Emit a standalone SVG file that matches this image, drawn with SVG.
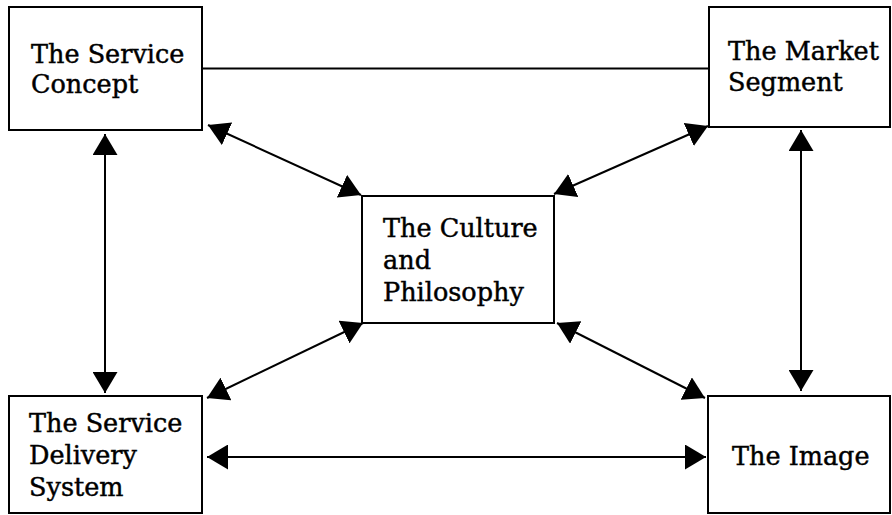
<svg xmlns="http://www.w3.org/2000/svg" width="892" height="515" viewBox="0 0 892 515">
<style>
.box{fill:#fff;stroke:#000;stroke-width:2}
.lbl{font-family:"DejaVu Serif","Liberation Serif",serif;font-size:25.5px;fill:#000;stroke:#000;stroke-width:0.45}
.con{stroke:#000;stroke-width:2;fill:none}
.arr{marker-start:url(#ah);marker-end:url(#ah)}
</style>
<defs>
<marker id="ah" markerUnits="userSpaceOnUse" markerWidth="21" markerHeight="25" refX="21" refY="12.5" orient="auto-start-reverse" viewBox="0 0 21 25">
<path d="M0,0 L21,12.5 L0,25 z" fill="#000"/>
</marker>
</defs>
<rect width="892" height="515" fill="#fff"/>
<g id="connectors">
<line class="con" x1="202" y1="68.5" x2="709" y2="68.5"/>
<line class="con arr" x1="105" y1="134" x2="105" y2="393"/>
<line class="con arr" x1="801" y1="130" x2="801" y2="391"/>
<line class="con arr" x1="207" y1="457" x2="706" y2="457"/>
<line class="con arr" x1="208" y1="125" x2="361" y2="195"/>
<line class="con arr" x1="708" y1="126" x2="554" y2="194"/>
<line class="con arr" x1="207" y1="398" x2="363" y2="323"/>
<line class="con arr" x1="557" y1="323" x2="705" y2="398"/>
</g>
<g id="service-concept">
<rect class="box" x="9" y="7" width="193" height="123"/>
<text class="lbl" x="31" y="63">The Service</text>
<text class="lbl" x="31" y="93">Concept</text>
</g>
<g id="market-segment">
<rect class="box" x="709" y="7" width="181" height="120"/>
<text class="lbl" x="728" y="60">The Market</text>
<text class="lbl" x="728" y="91">Segment</text>
</g>
<g id="culture-philosophy">
<rect class="box" x="362" y="196" width="192" height="127"/>
<text class="lbl" x="383" y="237">The Culture</text>
<text class="lbl" x="383" y="269">and</text>
<text class="lbl" x="383" y="301">Philosophy</text>
</g>
<g id="service-delivery">
<rect class="box" x="9" y="396" width="193" height="117"/>
<text class="lbl" x="29" y="432">The Service</text>
<text class="lbl" x="29" y="464">Delivery</text>
<text class="lbl" x="29" y="496">System</text>
</g>
<g id="image">
<rect class="box" x="708" y="396" width="182" height="117"/>
<text class="lbl" x="732" y="465">The Image</text>
</g>
</svg>
